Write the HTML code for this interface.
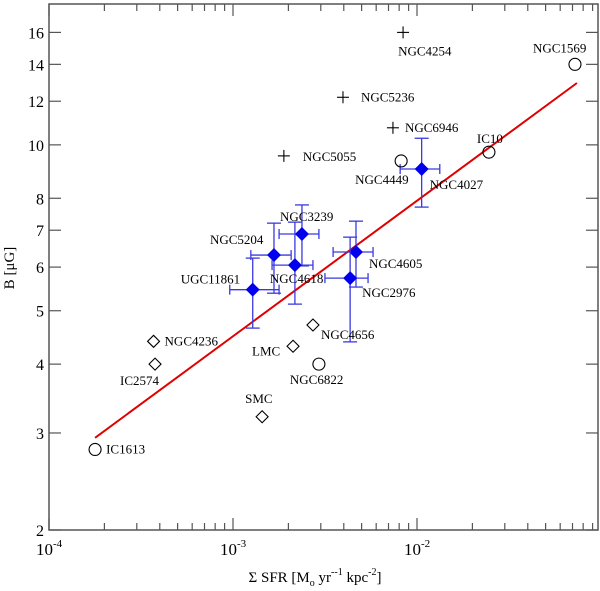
<!DOCTYPE html>
<html><head><meta charset="utf-8">
<style>
html,body{margin:0;padding:0;background:#fff;}
svg{display:block;font-family:"Liberation Serif",serif;}
</style></head>
<body>
<svg id="chart" width="600" height="591" viewBox="0 0 600 591"></svg>
<script>
// ---- data ----
const circleNames = ["IC1613","NGC6822","NGC4449","IC10","NGC1569"];
const circleX = [1.78e-4, 2.93e-3, 8.2e-3, 2.46e-2, 7.22e-2];
const circleY = [2.80, 4.00, 9.35, 9.70, 14.0];

const diamondNames = ["IC2574","NGC4236","SMC","LMC","NGC4656"];
const diamondX = [3.77e-4, 3.7e-4, 1.44e-3, 2.12e-3, 2.72e-3];
const diamondY = [4.00, 4.40, 3.21, 4.31, 4.71];

const plusNames = ["NGC4254","NGC5236","NGC6946","NGC5055"];
const plusX = [8.4e-3, 3.96e-3, 7.4e-3, 1.89e-3];
const plusY = [16.0, 12.2, 10.74, 9.55];

const errNames = ["UGC11861","NGC5204","NGC3239","NGC4618","NGC4605","NGC2976","NGC4027"];
const errX   = [1.28e-3, 1.67e-3, 2.37e-3, 2.17e-3, 4.66e-3, 4.33e-3, 1.06e-2];
const errY   = [5.46, 6.31, 6.89, 6.05, 6.39, 5.73, 9.04];
const errXlo = [9.6e-4, 1.25e-3, 1.78e-3, 1.63e-3, 3.5e-3, 3.16e-3, 8.1e-3];
const errXhi = [1.78e-3, 2.07e-3, 2.93e-3, 2.72e-3, 5.77e-3, 5.42e-3, 1.33e-2];
const errYlo = [4.65, 5.38, 6.03, 5.14, 5.52, 4.39, 7.71];
const errYhi = [6.23, 7.21, 7.78, 7.24, 7.27, 6.80, 10.28];

const fitX = [1.78e-4, 7.4e-2];
const fitY = [2.94, 12.95];

const yTickValues = [2,3,4,5,6,7,8,10,12,14,16];
const xDecadeExps = [-4,-3,-2];

// label offsets (style)
const labelOffsets = {
 IC1613:[11,4], NGC6822:[-29,20], NGC4449:[-46,23], IC10:[-12,-9], NGC1569:[-42,-12],
 IC2574:[-35,21], NGC4236:[11,4], SMC:[-17,-14], LMC:[-41,9], NGC4656:[8,14],
 NGC4254:[-5,23], NGC5236:[18,4], NGC6946:[12,4], NGC5055:[19,5],
 UGC11861:[-72,-6], NGC5204:[-64,-11], NGC3239:[-22,-13], NGC4618:[-25,18],
 NGC4605:[13,16], NGC2976:[12,19], NGC4027:[8,20]
};

// ---- axes ----
const L=49, R=598, T=4, B=530;
const xMinL=-4, xPerDec=184;
const yPerDec=551;
function sx(v){return L + (Math.log10(v)-xMinL)*xPerDec;}
function sy(v){return B - (Math.log10(v)-Math.log10(2))*yPerDec;}

const NS="http://www.w3.org/2000/svg";
const svg=document.getElementById('chart');
function mk(tag,attrs,parent){const e=document.createElementNS(NS,tag);for(const k in attrs)e.setAttribute(k,attrs[k]);(parent||svg).appendChild(e);return e;}

const frame=mk('rect',{x:L,y:T,width:R-L,height:B-T,fill:'none',stroke:'#555','stroke-width':1.5});



const xAxisG=mk('g',{});


for(let e=-4;e<=-1;e++){
  for(let m=1;m<=9;m++){
    const v=m*Math.pow(10,e);
    const px=sx(v);
    if(px<L-0.5||px>R+0.5)continue;
    const len=(m===1)?12:7;
    mk('line',{x1:px,y1:B,x2:px,y2:B-len,stroke:'#555','stroke-width':1.2},xAxisG);
    mk('line',{x1:px,y1:T,x2:px,y2:T+len,stroke:'#555','stroke-width':1.2},xAxisG);
  }
}
xDecadeExps.forEach(e=>{
  const px=sx(Math.pow(10,e));
  const t=mk('text',{x:px-13,y:555,'font-size':17,fill:'#000'},xAxisG);
  
  
  t.textContent='10';
  const s=mk('tspan',{dy:-8,'font-size':11},t);s.textContent=String(e);
});
const xt=mk('text',{x:315,y:582,'font-size':15,'text-anchor':'middle',fill:'#000'});


xt.innerHTML='Σ SFR [M<tspan dy="4" font-size="10">o</tspan><tspan dy="-4"> yr</tspan><tspan dy="-7" font-size="10">--1</tspan><tspan dy="7"> kpc</tspan><tspan dy="-7" font-size="10">-2</tspan><tspan dy="7">]</tspan>';

const yAxisG=mk('g',{});


yTickValues.forEach(v=>{
  const py=sy(v);
  mk('line',{x1:L,y1:py,x2:L+12,y2:py,stroke:'#555','stroke-width':1.2},yAxisG);
  mk('line',{x1:R,y1:py,x2:R-12,y2:py,stroke:'#555','stroke-width':1.2},yAxisG);
  const t=mk('text',{x:L-5,y:py+6,'font-size':16,'text-anchor':'end',fill:'#000'},yAxisG);
  
  
  t.textContent=String(v);
});
const yt=mk('text',{x:0,y:0,'font-size':15,'text-anchor':'middle',fill:'#000',transform:'translate(14,268) rotate(-90)'});


yt.textContent='B [μG]';

const fit=mk('line',{x1:sx(fitX[0]),y1:sy(fitY[0]),x2:sx(fitX[1]),y2:sy(fitY[1]),stroke:'#e00000','stroke-width':2});



function label(name,px,py){
  const o=labelOffsets[name]||[8,4];
  const t=mk('text',{x:px+o[0],y:py+o[1],'font-size':13,fill:'#000'});
  
  
  t.textContent=name;
}

errNames.forEach((n,i)=>{
  const g=mk('g',{});
  
  
  const px=sx(errX[i]),py=sy(errY[i]);
  const x1=sx(errXlo[i]),x2=sx(errXhi[i]),y1=sy(errYhi[i]),y2=sy(errYlo[i]);
  const st={stroke:'#3a3adf','stroke-width':1.3};
  mk('line',Object.assign({x1:x1,y1:py,x2:x2,y2:py},st),g);
  mk('line',Object.assign({x1:px,y1:y1,x2:px,y2:y2},st),g);
  mk('line',Object.assign({x1:x1,y1:py-5,x2:x1,y2:py+5},st),g);
  mk('line',Object.assign({x1:x2,y1:py-5,x2:x2,y2:py+5},st),g);
  mk('line',Object.assign({x1:px-7,y1:y1,x2:px+7,y2:y1},st),g);
  mk('line',Object.assign({x1:px-7,y1:y2,x2:px+7,y2:y2},st),g);
  const d=7;
  mk('polygon',{points:`${px},${py-d} ${px+d},${py} ${px},${py+d} ${px-d},${py}`,fill:'#0000ee'},g);
  label(n,px,py);
});

circleNames.forEach((n,i)=>{
  const px=sx(circleX[i]),py=sy(circleY[i]);
  const c=mk('circle',{cx:px,cy:py,r:6,fill:'none',stroke:'#000','stroke-width':1.1});
  
  
  label(n,px,py);
});
diamondNames.forEach((n,i)=>{
  const px=sx(diamondX[i]),py=sy(diamondY[i]),d=6;
  const p=mk('polygon',{points:`${px},${py-d} ${px+d},${py} ${px},${py+d} ${px-d},${py}`,fill:'none',stroke:'#000','stroke-width':1.1});
  
  
  label(n,px,py);
});
plusNames.forEach((n,i)=>{
  const px=sx(plusX[i]),py=sy(plusY[i]),d=6;
  const g=mk('g',{stroke:'#000','stroke-width':1.1});
  
  
  mk('line',{x1:px-d,y1:py,x2:px+d,y2:py},g);
  mk('line',{x1:px,y1:py-d,x2:px,y2:py+d},g);
  label(n,px,py);
});
</script>
</body></html>
